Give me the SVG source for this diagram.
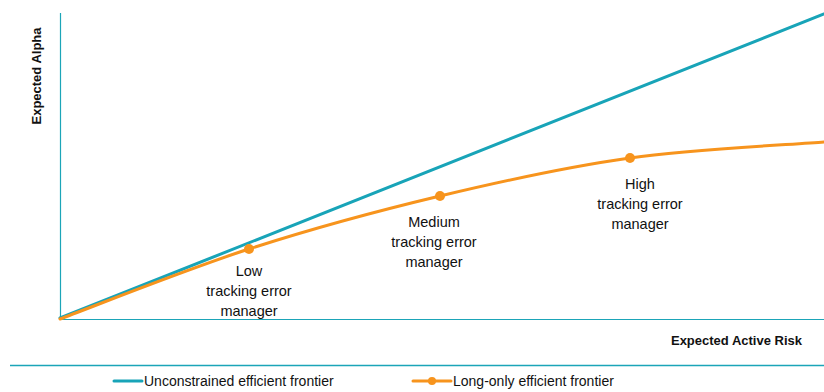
<svg xmlns="http://www.w3.org/2000/svg" width="824" height="392" viewBox="0 0 824 392">
  <style>
    .axis { stroke: #1ba5b8; stroke-width: 1.2; fill: none; }
    .blue { stroke: #18a4b8; stroke-width: 3; fill: none; stroke-linecap: round; }
    .orange { stroke: #f7941d; stroke-width: 3; fill: none; stroke-linecap: round; }
    .dot { fill: #f7941d; }
    .lbl { font-family: "Liberation Sans", Arial, sans-serif; font-size: 14.5px; fill: #111; text-anchor: middle; }
    .axt { font-family: "Liberation Sans", Arial, sans-serif; font-size: 13px; font-weight: bold; fill: #111; }
    .leg { font-family: "Liberation Sans", Arial, sans-serif; font-size: 14px; fill: #111; }
  </style>
  <rect width="824" height="392" fill="#ffffff"/>

  <g id="axes">
    <line class="axis" x1="60.5" y1="13" x2="60.5" y2="319"/>
    <line class="axis" x1="60" y1="319.5" x2="824" y2="319.5"/>
    <text class="axt" transform="translate(41,76) rotate(-90)" text-anchor="middle">Expected Alpha</text>
    <text class="axt" x="802" y="345" text-anchor="end">Expected Active Risk</text>
  </g>

  <g id="connectors">
    <line class="blue" x1="60" y1="318" x2="824" y2="14"/>
    <path class="orange" d="M60,319 C91.5,307.3 185.7,269.5 249,249 C312.3,228.5 376.5,211.2 440,196 C503.5,180.8 566,167 630,158 C694,149 791.7,144.7 824,142"/>
  </g>

  <g id="low-manager">
    <circle class="dot" cx="249" cy="249" r="5"/>
    <text class="lbl" x="249" y="276">Low</text>
    <text class="lbl" x="249" y="296">tracking error</text>
    <text class="lbl" x="249" y="316">manager</text>
  </g>

  <g id="medium-manager">
    <circle class="dot" cx="440" cy="196" r="5"/>
    <text class="lbl" x="434" y="227">Medium</text>
    <text class="lbl" x="434" y="247">tracking error</text>
    <text class="lbl" x="434" y="267">manager</text>
  </g>

  <g id="high-manager">
    <circle class="dot" cx="630" cy="158" r="5"/>
    <text class="lbl" x="640" y="189">High</text>
    <text class="lbl" x="640" y="209">tracking error</text>
    <text class="lbl" x="640" y="229">manager</text>
  </g>

  <g id="legend">
    <line x1="10" y1="365.5" x2="824" y2="365.5" stroke="#1ba5b8" stroke-width="1.5"/>
    <line class="blue" x1="114" y1="381" x2="142" y2="381" stroke-linecap="butt"/>
    <text class="leg" x="144" y="386">Unconstrained efficient frontier</text>
    <line class="orange" x1="413" y1="381" x2="451" y2="381" stroke-linecap="butt"/>
    <circle class="dot" cx="432" cy="381" r="4"/>
    <text class="leg" x="453" y="386">Long-only efficient frontier</text>
  </g>
</svg>
